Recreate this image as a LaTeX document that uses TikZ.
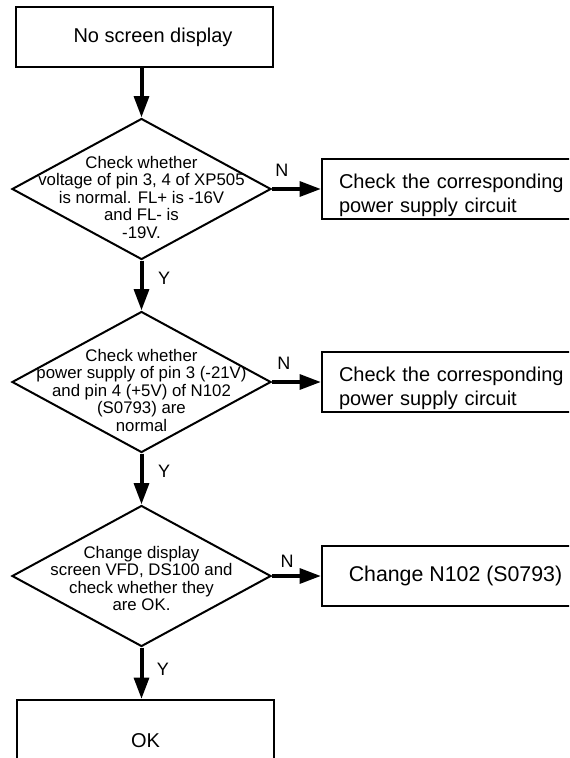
\documentclass[tikz,border=0pt]{standalone}
\usepackage{fontspec}
\setmainfont{Liberation Sans}
\usetikzlibrary{arrows.meta,shapes.geometric}

\begin{document}
\begin{tikzpicture}[x=0.75pt,y=-0.75pt,
  box/.style={draw, line width=1.5pt, minimum width=192.75pt, minimum height=45pt,
    inner sep=0pt, align=center, font=\fontsize{15}{18}\selectfont},
  sidebox/.style={draw, line width=1.5pt, anchor=west, minimum width=209.25pt,
    minimum height=45pt, inner sep=0pt},
  stext/.style={text width=183.75pt, align=left, inner sep=0pt, yshift=-5pt,
    font=\fontsize{15}{18}\selectfont},
  decision/.style={draw, diamond, line width=1.5pt, inner sep=0pt,
    minimum width=194.25pt, minimum height=105.75pt},
  dtext/.style={align=center, font=\fontsize{12.6}{13.1}\selectfont, inner sep=0pt},
  flow/.style={line width=3pt, -{Triangle[length=16pt,width=11pt]}},
  tag/.style={font=\fontsize{13.5}{15}\selectfont, inner sep=0pt}
]
\useasboundingbox (0,0) rectangle (569,758);
\fill[white] (0,0) rectangle (569,758);
\clip (0,0) rectangle (569,758);

% main column
\node[box] (start) at (144.5,37) {\hspace*{12.75pt}No screen display};
\node[decision, label={[dtext, yshift=-6.25pt]center:{Check whether\\voltage of pin 3, 4 of XP505\\is normal. FL+ is -16V\\and FL- is\\-19V.}}] (d1) at (141.5,189) {};
\node[decision, label={[dtext, yshift=-6.25pt]center:{Check whether\\power supply of pin 3 (-21V)\\and pin 4 (+5V) of N102\\(S0793) are\\normal}}] (d2) at (141.5,382) {};
\node[decision, label={[dtext, yshift=-2pt]center:{Change display\\screen VFD, DS100 and\\check whether they\\are OK.}}] (d3) at (141.5,576) {};
\node[box, minimum height=61.5pt] (ok) at (145.5,741) {OK};

% side branches
\node[sidebox, label={[stext]center:{Check the corresponding\\power supply circuit}}] (r1) at (321,189) {};
\node[sidebox, label={[stext]center:{Check the corresponding\\power supply circuit}}] (r2) at (321,382) {};
\node[box, anchor=west, minimum width=200.25pt, font=\fontsize{16}{19}\selectfont] (r3) at (321,576) {Change N102 (S0793)};

% connectors
\draw[flow] (start.south -| d1.north) -- (d1.north);
\draw[flow] (d1.south) -- node[tag, pos=0.35, right=11pt] (y1) {Y} (d2.north);
\draw[flow] (d2.south) -- node[tag, pos=0.34, right=11pt] (y2) {Y} (d3.north);
\draw[flow] (d3.south) -- node[tag, pos=0.43, right=10pt] (y3) {Y} (ok.north -| d3.south);
\draw[flow] (d1.east) -- node[tag, pos=0.20, above=8pt] (n1) {N} (r1.west);
\draw[flow] (d2.east) -- node[tag, pos=0.24, above=8pt] (n2) {N} (r2.west);
\draw[flow] (d3.east) -- node[tag, pos=0.31, above=5pt] (n3) {N} (r3.west);
\end{tikzpicture}
\end{document}
